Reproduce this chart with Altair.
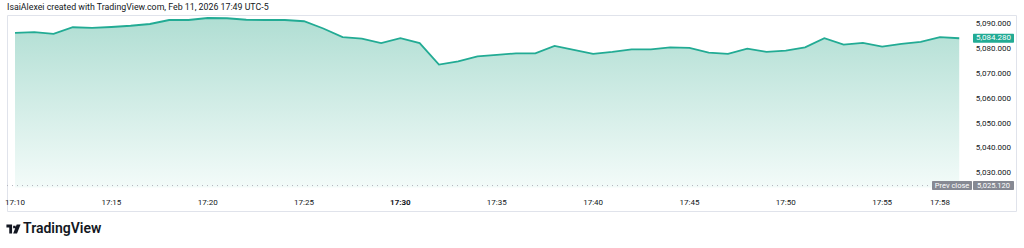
import altair as alt
import pandas as pd

# ---- data ----
minutes = list(range(10, 60))  # 17:10 ... 17:59, one point per minute
prices = [
    5086.4, 5086.7, 5086.0, 5088.7, 5088.4, 5088.8, 5089.3, 5090.0, 5091.6, 5091.6,
    5092.4, 5092.3, 5091.7, 5091.6, 5091.6, 5091.1, 5088.2, 5084.7, 5084.1, 5082.3,
    5084.3, 5082.3, 5073.7, 5075.0, 5077.0, 5077.6, 5078.2, 5078.2, 5081.2, 5079.6,
    5078.0, 5078.8, 5079.8, 5079.8, 5080.6, 5080.4, 5078.5, 5078.0, 5080.1, 5078.8,
    5079.3, 5080.6, 5084.3, 5081.7, 5082.4, 5080.9, 5082.0, 5082.8, 5084.7, 5084.28,
]
tick_minutes = [10, 15, 20, 25, 35, 40, 45, 50, 55, 58]
tick_labels = ["17:10", "17:15", "17:20", "17:25", "17:35", "17:40", "17:45", "17:50", "17:55", "17:58"]
bold_minutes = [30]
bold_labels = ["17:30"]
price_ticks = [5030, 5040, 5050, 5060, 5070, 5080, 5090]
price_labels = ["5,030.000", "5,040.000", "5,050.000", "5,060.000", "5,070.000", "5,080.000", "5,090.000"]
last_price = 5084.28
last_label = "5,084.280"
prev_close = 5025.12
prev_label = "5,025.120"
header = "IsaiAlexei created with TradingView.com, Feb 11, 2026 17:49 UTC-5"

W, H = 1009, 196
XDOM = [9.585, 61.946]
YDOM = [5014.9, 5093.61]
BASE = 5024.3
FONT = "Roboto"
TEAL = "#22ab94"
GRAY = "#868993"
TXT = "#131722"

xs = alt.Scale(domain=XDOM, nice=False, zero=False)
ys = alt.Scale(domain=YDOM, nice=False, zero=False)

df = pd.DataFrame({"m": minutes, "p": prices, "base": [BASE] * len(minutes)})
ticks = pd.DataFrame({"m": tick_minutes, "lab": tick_labels})
bticks = pd.DataFrame({"m": bold_minutes, "lab": bold_labels})
pticks = pd.DataFrame({"v": price_ticks, "lab": price_labels})
last = pd.DataFrame({"v": [last_price], "lo": [last_price - 1.8], "hi": [last_price + 1.8], "lab": [last_label]})
prev = pd.DataFrame({"v": [prev_close], "lo": [prev_close - 1.8], "hi": [prev_close + 1.8],
                     "lab": [prev_label], "name": ["Prev close"]})

X = alt.X("m:Q", scale=xs, axis=None)
Y = alt.Y("p:Q", scale=ys, axis=None)

grad = alt.Gradient(
    gradient="linear", x1=0, y1=0, x2=0, y2=1,
    stops=[alt.GradientStop(color="#b0ded3", offset=0),
           alt.GradientStop(color="#f3fbf9", offset=1)],
)

area = alt.Chart(df).mark_area(color=grad).encode(x=X, y=Y, y2="base:Q")
line = alt.Chart(df).mark_line(color=TEAL, strokeWidth=1.8).encode(x=X, y=Y)

prev_rule = alt.Chart(prev).mark_rule(color="#b2b5be", strokeDash=[1, 4], strokeWidth=1).encode(
    x=alt.value(0), x2=alt.value(925), y=alt.Y("v:Q", scale=ys, axis=None))

tlabels = alt.Chart(ticks).mark_text(font=FONT, fontSize=8, color=TXT, baseline="middle").encode(
    x=alt.X("m:Q", scale=xs, axis=None), y=alt.value(188), text="lab:N")
blabels = alt.Chart(bticks).mark_text(font=FONT, fontSize=8, color=TXT, fontWeight="bold", baseline="middle").encode(
    x=alt.X("m:Q", scale=xs, axis=None), y=alt.value(188), text="lab:N")

plabels = alt.Chart(pticks).mark_text(font=FONT, fontSize=8, color=TXT, align="right", baseline="middle").encode(
    x=alt.value(1004), y=alt.Y("v:Q", scale=ys, axis=None), text="lab:N")

tag = alt.Chart(last).mark_rect(color=TEAL, cornerRadius=1).encode(
    x=alt.value(966), x2=alt.value(1007), y=alt.Y("hi:Q", scale=ys, axis=None), y2="lo:Q")
tagtxt = alt.Chart(last).mark_text(font=FONT, fontSize=8, color="white", baseline="middle").encode(
    x=alt.value(986.5), y=alt.Y("v:Q", scale=ys, axis=None), text="lab:N")

ptag1 = alt.Chart(prev).mark_rect(color=GRAY, cornerRadius=1).encode(
    x=alt.value(925), x2=alt.value(965), y=alt.Y("hi:Q", scale=ys, axis=None), y2="lo:Q")
ptag2 = alt.Chart(prev).mark_rect(color=GRAY, cornerRadius=1).encode(
    x=alt.value(966), x2=alt.value(1007), y=alt.Y("hi:Q", scale=ys, axis=None), y2="lo:Q")
ptxt1 = alt.Chart(prev).mark_text(font=FONT, fontSize=7.5, color="white", baseline="middle").encode(
    x=alt.value(945), y=alt.Y("v:Q", scale=ys, axis=None), text="name:N")
ptxt2 = alt.Chart(prev).mark_text(font=FONT, fontSize=7.5, color="white", baseline="middle").encode(
    x=alt.value(986.5), y=alt.Y("v:Q", scale=ys, axis=None), text="lab:N")

hdr = alt.Chart(pd.DataFrame({"t": [header]})).mark_text(
    font=FONT, fontSize=8.8, color=TXT, align="left", baseline="middle").encode(
    x=alt.value(0), y=alt.value(-8), text="t:N")

logo_path = ("M-1,-0.65 H-0.2 V0.65 H-0.6 V-0.2 H-1 Z "
             "M-0.05,-0.45 H0.3 V-0.1 H-0.05 Z "
             "M0.45,-0.65 H1 L0.5,0.65 H-0.05 Z")
logo = alt.Chart(pd.DataFrame({"t": ["TradingView"]})).mark_point(
    shape=logo_path, filled=True, color=TXT, opacity=1, size=200).encode(
    x=alt.value(6.5), y=alt.value(214))
logotxt = alt.Chart(pd.DataFrame({"t": ["TradingView"]})).mark_text(
    font=FONT, fontSize=14, fontWeight=600, color=TXT, align="left", baseline="middle").encode(
    x=alt.value(16), y=alt.value(214), text="t:N")

chart = alt.layer(
    area, line, prev_rule, tlabels, blabels, plabels, tag, tagtxt,
    ptag1, ptag2, ptxt1, ptxt2, hdr, logo, logotxt,
).properties(
    width=W, height=H, autosize="none",
    padding={"left": 7, "top": 15, "right": 8, "bottom": 37},
    background="white",
).configure_view(stroke="#e0e3eb", strokeWidth=1)

chart.save("out.html", embed_options={"renderer": "svg", "actions": False})
